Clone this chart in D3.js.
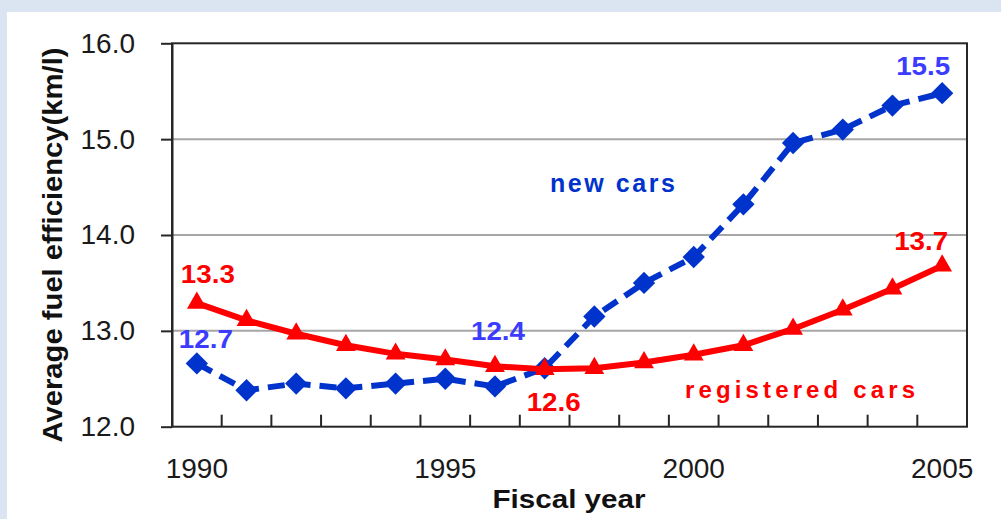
<!DOCTYPE html>
<html>
<head>
<meta charset="utf-8">
<script src="https://cdn.jsdelivr.net/npm/d3@7"></script>
<style>
  html, body { margin: 0; padding: 0; background: #dbe5f1; }
  svg { display: block; }
  text { font-family: "Liberation Sans", Arial, sans-serif; }
</style>
</head>
<body>
<svg id="chart" width="1001" height="519"></svg>
<script>
// Fiscal years (categories)
const years = [1990, 1991, 1992, 1993, 1994, 1995, 1996, 1997,
               1998, 1999, 2000, 2001, 2002, 2003, 2004, 2005];

// Average fuel efficiency, km/l
const newCars = [12.66, 12.38, 12.45, 12.40, 12.45, 12.50, 12.42, 12.61,
                 13.15, 13.50, 13.77, 14.32, 14.96, 15.10, 15.35, 15.48];
const registeredCars = [13.29, 13.11, 12.97, 12.85, 12.76, 12.70, 12.63, 12.60,
                        12.61, 12.67, 12.75, 12.85, 13.02, 13.22, 13.44, 13.68];

// Axis ticks
const yTicks = [12, 13, 14, 15, 16];
const xTickLabels = [1990, 1995, 2000, 2005];

// Value call-outs: which series and year get a label
const callouts = [
  { series: "registered", year: 1990, dx: 11, dy: -20 },
  { series: "new",        year: 1990, dx: 9,  dy: -15 },
  { series: "new",        year: 1996, dx: 3,  dy: -46 },
  { series: "registered", year: 1997, dx: 9,  dy: 42 },
  { series: "new",        year: 2005, dx: -19, dy: -18 },
  { series: "registered", year: 2005, dx: -21, dy: -16 }
];

const colors = { new: "#0033cc", newLabel: "#3c3cff", registered: "#ff0000" };

const svg = d3.select("#chart");

// panel background
svg.append("rect").attr("width", 1001).attr("height", 519).attr("fill", "#dbe5f1");
svg.append("rect").attr("x", 7).attr("y", 12).attr("width", 994).attr("height", 507).attr("fill", "#ffffff");

const plot = { left: 172, right: 967, top: 43.3, bottom: 426.7 };

const x = d3.scaleBand().domain(years).range([plot.left, plot.right]).padding(0);
const y = d3.scaleLinear().domain([12, 16]).range([plot.bottom, plot.top]);
const cx = d => x(d) + x.bandwidth() / 2;

// horizontal gridlines
svg.append("g").selectAll("line")
  .data(yTicks.filter(v => v > 12 && v < 16))
  .join("line")
  .attr("x1", plot.left).attr("x2", plot.right)
  .attr("y1", d => y(d)).attr("y2", d => y(d))
  .attr("stroke", "#a6a6a6").attr("stroke-width", 2);

// frame
svg.append("rect")
  .attr("x", plot.left).attr("y", plot.top)
  .attr("width", plot.right - plot.left).attr("height", plot.bottom - plot.top)
  .attr("fill", "none").attr("stroke", "#262626").attr("stroke-width", 2);

// y axis
const yAxis = svg.append("g")
  .attr("transform", `translate(${plot.left},0)`)
  .call(d3.axisLeft(y).tickValues(yTicks).tickFormat(d3.format(".1f"))
    .tickSize(11).tickSizeOuter(0).tickPadding(26));
yAxis.select(".domain").attr("stroke", "#262626").attr("stroke-width", 2);
yAxis.selectAll(".tick line").attr("stroke", "#262626").attr("stroke-width", 2);
yAxis.selectAll(".tick text")
  .attr("font-family", "Liberation Sans, Arial, sans-serif")
  .attr("font-size", 28).attr("fill", "#1a1a1a");

// x axis: tick marks on category boundaries, labels every five years
const boundaries = years.map(d => x(d)).concat([x(years[years.length - 1]) + x.bandwidth()]);
svg.append("g").selectAll("line")
  .data(boundaries.slice(1, -1))
  .join("line")
  .attr("x1", d => d).attr("x2", d => d)
  .attr("y1", plot.bottom).attr("y2", plot.bottom - 12)
  .attr("stroke", "#262626").attr("stroke-width", 2);

const xAxis = svg.append("g")
  .attr("transform", `translate(0,${plot.bottom})`)
  .call(d3.axisBottom(x).tickValues(xTickLabels).tickSize(0).tickPadding(31));
xAxis.select(".domain").remove();
xAxis.selectAll(".tick text")
  .attr("font-family", "Liberation Sans, Arial, sans-serif")
  .attr("font-size", 28).attr("fill", "#1a1a1a");

// axis titles
svg.append("text")
  .attr("transform", "translate(61.5,245) rotate(-90)")
  .attr("text-anchor", "middle")
  .attr("font-size", 28).attr("font-weight", "bold").attr("fill", "#111")
  .attr("textLength", 395).attr("lengthAdjust", "spacingAndGlyphs")
  .text("Average fuel efficiency(km/l)");

svg.append("text")
  .attr("x", 569).attr("y", 508)
  .attr("text-anchor", "middle")
  .attr("font-size", 25).attr("font-weight", "bold").attr("fill", "#111")
  .attr("textLength", 153).attr("lengthAdjust", "spacingAndGlyphs")
  .text("Fiscal year");

// series
const newData = years.map((yr, i) => ({ year: yr, value: newCars[i] }));
const regData = years.map((yr, i) => ({ year: yr, value: registeredCars[i] }));
const line = d3.line().x(d => cx(d.year)).y(d => y(d.value));

svg.append("path").datum(newData)
  .attr("d", line).attr("fill", "none")
  .attr("stroke", colors.new).attr("stroke-width", 6)
  .attr("stroke-dasharray", "17,9");

svg.append("g").selectAll("path")
  .data(newData).join("path")
  .attr("d", d3.symbol(d3.symbolSquare, 250))
  .attr("transform", d => `translate(${cx(d.year)},${y(d.value)}) rotate(45)`)
  .attr("fill", colors.new);

svg.append("path").datum(regData)
  .attr("d", line).attr("fill", "none")
  .attr("stroke", colors.registered).attr("stroke-width", 6);

svg.append("g").selectAll("path")
  .data(regData).join("path")
  .attr("d", d3.symbol(d3.symbolTriangle, 170))
  .attr("transform", d => `translate(${cx(d.year)},${y(d.value)})`)
  .attr("fill", colors.registered);

// value call-outs
const fmt = d3.format(".1f");
svg.append("g").selectAll("text")
  .data(callouts).join("text")
  .each(function (c) {
    const i = years.indexOf(c.year);
    const v = c.series === "new" ? newCars[i] : registeredCars[i];
    d3.select(this)
      .attr("x", cx(c.year) + c.dx)
      .attr("y", y(v) + c.dy)
      .attr("fill", c.series === "new" ? colors.newLabel : colors.registered)
      .text(fmt(v));
  })
  .attr("text-anchor", "middle")
  .attr("font-size", 26).attr("font-weight", "bold")
  .attr("textLength", 54).attr("lengthAdjust", "spacingAndGlyphs");

// series names
svg.append("text")
  .attr("x", 550).attr("y", 191.5)
  .attr("font-size", 25).attr("font-weight", "bold").attr("fill", colors.new)
  .attr("textLength", 125).attr("lengthAdjust", "spacing")
  .text("new cars");

svg.append("text")
  .attr("x", 685).attr("y", 398)
  .attr("font-size", 24).attr("font-weight", "bold").attr("fill", colors.registered)
  .attr("textLength", 230).attr("lengthAdjust", "spacing")
  .text("registered cars");
</script>
</body>
</html>
